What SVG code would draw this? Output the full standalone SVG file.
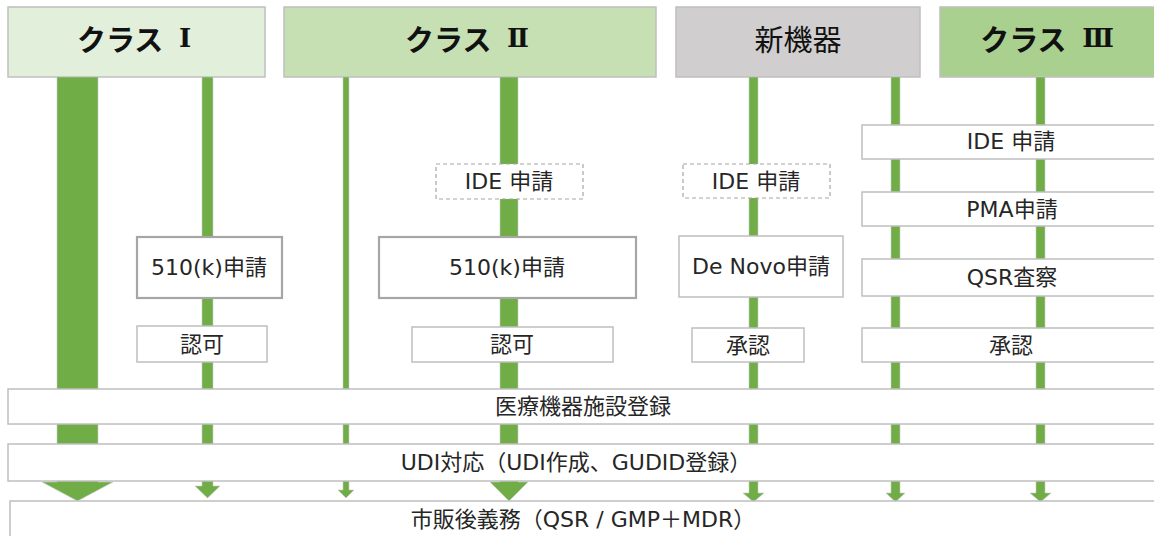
<svg xmlns="http://www.w3.org/2000/svg" width="1154" height="536" viewBox="0 0 1154 536">
<style>
.hdr{stroke:#bfbfbf;stroke-width:1.5}
.box{fill:#fff;stroke:#bfbfbf;stroke-width:1.5}
.thick{fill:#fff;stroke:#a6a6a6;stroke-width:2.2}
.dash{fill:#fff;stroke:#a6a6a6;stroke-width:1.2;stroke-dasharray:4 3}
.arr{fill:#70ad47;stroke:#c9c9c9;stroke-width:0.6}
text{font-family:"DejaVu Sans","Noto Sans CJK JP",sans-serif;font-size:22px;fill:#262626;text-anchor:middle;dominant-baseline:central}
.ht{font-family:"Noto Sans CJK JP",sans-serif;font-size:29px;fill:#111}
.b{font-weight:bold}
.rn{font-family:"DejaVu Serif","Noto Sans CJK JP",serif;font-size:26px}
</style>
<rect width="1154" height="536" fill="#fff"/>
<g id="header-class1"><rect class="hdr" x="8" y="7" width="257" height="70" fill="#e2efda"/><text class="ht b" x="134" y="38">クラス <tspan class="rn" dx="9">Ⅰ</tspan></text></g>
<g id="header-class2"><rect class="hdr" x="284" y="7" width="372" height="70" fill="#c6e0b4"/><text class="ht b" x="467" y="38">クラス <tspan class="rn" dx="9">Ⅱ</tspan></text></g>
<g id="header-new"><rect class="hdr" x="676" y="7" width="244" height="70" fill="#d0cece"/><text class="ht" x="798" y="38">新機器</text></g>
<g id="header-class3"><rect class="hdr" x="940" y="7" width="220" height="70" fill="#a9d08e"/><text class="ht b" x="1047" y="38">クラス <tspan class="rn" dx="9">Ⅲ</tspan></text></g>
<g id="connectors">
<polygon class="arr" points="57,77 98,77 98,482 113,482 77.5,501 42,482 57,482"/>
<polygon class="arr" points="202,77 213,77 213,486 220,486 207.5,498 195,486 202,486"/>
<polygon class="arr" points="343,77 349,77 349,490 354,490 346,498 338,490 343,490"/>
<polygon class="arr" points="500,77 518,77 518,482 528,482 509,501 490,482 500,482"/>
<polygon class="arr" points="749,77 758,77 758,493 764,493 753.5,502 743,493 749,493"/>
<polygon class="arr" points="891,77 900,77 900,493 905,493 895.5,502 886,493 891,493"/>
<polygon class="arr" points="1036,77 1045,77 1045,493 1051,493 1040.5,502 1030,493 1036,493"/>
</g>
<g id="c1-510k"><rect class="thick" x="137" y="237" width="145" height="61"/><text x="209" y="267">510(k)申請</text></g>
<g id="c1-ninka"><rect class="box" x="137" y="326" width="130" height="36"/><text x="202" y="344">認可</text></g>
<g id="c2-ide"><rect class="dash" x="436" y="164" width="147" height="35"/><text x="509" y="181">IDE 申請</text></g>
<g id="c2-510k"><rect class="thick" x="379" y="237" width="257" height="61"/><text x="507" y="267">510(k)申請</text></g>
<g id="c2-ninka"><rect class="box" x="412" y="327" width="201" height="35"/><text x="512" y="344">認可</text></g>
<g id="new-ide"><rect class="dash" x="683" y="164" width="147" height="34"/><text x="756" y="181">IDE 申請</text></g>
<g id="new-denovo"><rect class="box" x="679" y="236" width="164" height="61"/><text x="761" y="266">De Novo申請</text></g>
<g id="new-shonin"><rect class="box" x="692" y="328" width="112" height="34"/><text x="748" y="345">承認</text></g>
<g id="c3-ide"><rect class="box" x="862" y="125" width="300" height="34"/><text x="1011" y="141">IDE 申請</text></g>
<g id="c3-pma"><rect class="box" x="862" y="192" width="300" height="34"/><text x="1012" y="209">PMA申請</text></g>
<g id="c3-qsr"><rect class="box" x="862" y="259" width="300" height="37"/><text x="1012" y="277">QSR査察</text></g>
<g id="c3-shonin"><rect class="box" x="862" y="328" width="300" height="34"/><text x="1011" y="345">承認</text></g>
<g id="band-registration"><rect class="box" x="8" y="389" width="1154" height="35"/><text x="583" y="406">医療機器施設登録</text></g>
<g id="band-udi"><rect class="box" x="8" y="444" width="1154" height="37"/><text x="576" y="462">UDI対応（UDI作成、GUDID登録）</text></g>
<g id="band-postmarket"><rect class="box" x="10" y="501" width="1154" height="45"/><text x="583" y="519">市販後義務（QSR / GMP＋MDR）</text></g>
</svg>
